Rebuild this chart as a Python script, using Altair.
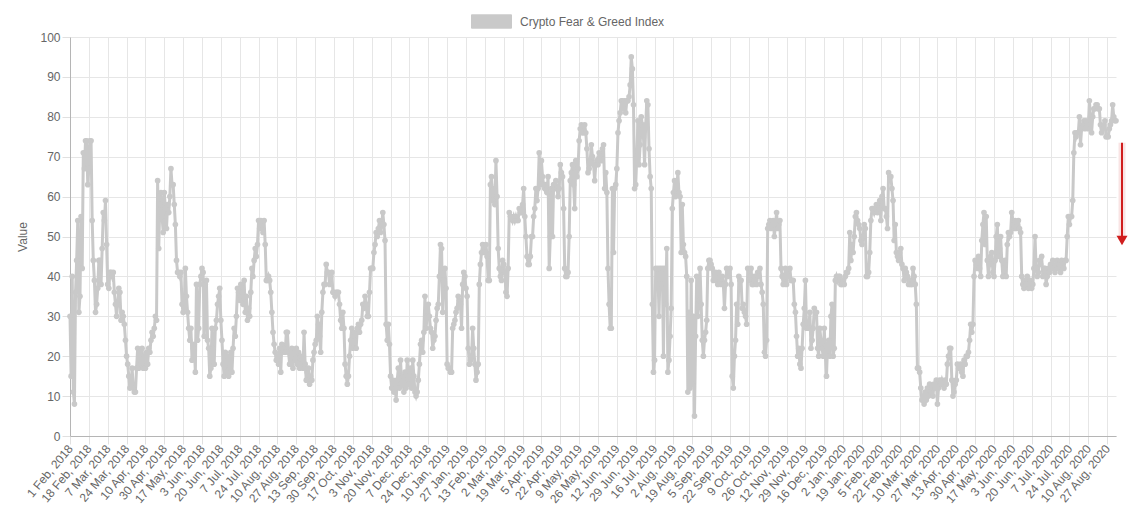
import altair as alt
import pandas as pd

# ---- daily index values (Feb 2018 -> Sep 2020) ----
vals_a = [
    30,15,40,11,8,36,44,54,31,35,55,42,71,67,74,74,63,
    67,74,74,54,44,39,31,33,37,44,44,38,47,56,54,59,48,
    38,37,41,41,40,41,36,33,30,33,37,36,29,31,30,28,24,
    20,18,15,12,13,17,12,11,11,17,22,17,21,18,22,17,20,
    17,21,18,22,21,24,26,25,27,30,29,64,47,58,61,55,51,
    61,57,52,58,56,60,67,63,63,58,53,44,41,41,40,41,33,
    31,32,42,35,31,27,24,27,19,22,23,16,38,24,27,38,40,
    42,41,25,38,39,24,22,15,17,27,22,18,27,29,33,35,37,
    29,24,18,15,21,16,20,15,17,21,16,22,27,25,30,37,36,
    34,38,36,33,39,31,35,29,32,30,36,42,40,44,47,45,48,
    54,52,54,53,51,54,48,39,39,40,39,36,31,26,23,21,19,
    20,18,22,16,23,21,22,21,26,26,21,18,20,22,17,21,19,
    22,18,21,17,20,18,17,26,18,14,16,17,13,15,14,19,21,
    23,24,30,28,25,21,31,36,38,38,43,41,41,38,40,41,36,
]
vals_b = [
    36,35,36,36,36,33,29,27,31,27,18,15,13,15,20,24,27,
    22,26,24,22,27,28,26,28,29,33,32,35,33,30,30,36,42,
    42,42,46,48,51,50,52,54,51,53,56,53,49,28,24,28,23,
    15,12,14,11,13,9,14,17,12,19,13,15,11,16,12,19,14,
    13,17,12,19,15,11,10,11,14,18,23,24,21,26,35,27,30,
    33,30,27,26,22,24,25,29,32,33,40,48,47,31,39,42,37,
    18,17,17,16,16,27,28,29,31,32,35,34,33,27,38,41,40,
    37,35,22,18,19,20,27,22,18,14,16,18,38,43,46,48,46,
    46,48,45,39,39,63,65,59,62,58,69,60,47,42,40,39,44,
    43,41,36,35,42,56,55,55,54,55,54,55,54,54,57,56,56,
    58,62,55,50,45,43,43,45,50,50,55,57,62,59,62,71,63,
    69,65,63,62,63,61,65,42,50,62,50,63,62,64,62,60,62,
    68,66,65,57,42,40,40,41,50,64,66,68,63,57,69,65,67,
    74,77,78,76,76,78,76,72,66,67,69,73,70,68,64,68,69,
]
vals_c = [
    68,71,70,69,72,73,62,66,61,42,33,27,27,62,46,62,63,
    67,76,79,81,84,84,82,84,81,84,84,85,88,95,92,83,62,
    63,70,79,68,73,80,78,75,68,78,84,83,72,65,62,33,16,
    19,42,38,42,30,42,38,42,20,42,33,47,16,19,25,32,57,
    61,64,60,62,66,61,60,46,58,48,46,45,40,11,31,12,39,
    13,30,5,25,40,30,34,42,33,24,20,24,26,29,42,44,44,
    43,42,39,40,41,39,38,41,39,38,40,38,32,38,42,40,41,
    42,38,15,12,20,24,33,28,40,39,39,32,33,31,30,28,42,
    39,40,42,38,38,40,39,38,41,40,42,38,36,33,21,20,24,
    52,53,54,52,53,54,50,53,56,52,53,54,42,40,38,40,42,
    38,41,40,42,39,39,39,33,31,25,20,22,18,17,22,28,32,
    39,27,27,27,31,22,24,27,32,31,31,22,20,27,24,22,20,
    27,20,15,23,24,20,30,33,20,22,39,40,39,40,40,38,38,
    39,38,40,41,41,42,51,44,48,46,50,55,56,54,53,52,49,
]
vals_d = [
    48,50,53,52,40,40,41,46,54,57,57,56,57,58,56,57,59,
    54,60,62,57,57,55,52,66,65,65,62,59,49,53,46,45,44,
    46,47,43,42,39,42,41,40,38,39,38,38,42,40,38,33,17,
    17,16,12,9,10,8,11,9,12,10,13,11,12,10,13,12,14,
    8,12,14,13,14,13,12,14,13,18,20,22,22,14,10,11,13,
    14,18,17,17,18,16,15,19,18,20,20,21,24,28,26,28,40,
    44,43,42,45,42,40,49,53,56,48,55,44,40,43,45,46,41,
    40,44,50,53,45,47,50,44,40,42,44,40,48,51,50,51,56,
    54,52,54,52,53,54,52,51,40,38,37,39,38,40,37,38,39,
    37,38,42,50,42,40,41,44,43,45,40,42,42,38,40,42,41,
    43,42,44,42,41,43,44,42,43,41,44,43,42,44,44,50,55,
    53,55,55,59,71,76,75,76,76,80,73,77,78,79,77,79,78,
    77,84,80,76,80,82,82,83,83,82,82,78,76,77,78,79,75,
    75,75,77,78,79,83,80,79,79,
]
values = vals_a + vals_b + vals_c + vals_d

# category labels (one per data day; three April 2018 days are absent)
missing_days = ["2018-04-14", "2018-04-15", "2018-04-16"]
all_days = pd.date_range("2018-02-01", "2020-09-04", freq="D")
days = [d for d in all_days if d.strftime("%Y-%m-%d") not in missing_days]
dates = [f"{d.day} {d.strftime('%b')}, {d.year}" for d in days]
n = min(len(dates), len(values))
dates, values = dates[:n], values[:n]

tick_labels = [
    "1 Feb, 2018", "18 Feb, 2018", "7 Mar, 2018", "24 Mar, 2018", "10 Apr, 2018",
    "30 Apr, 2018", "17 May, 2018", "3 Jun, 2018", "20 Jun, 2018", "7 Jul, 2018",
    "24 Jul, 2018", "10 Aug, 2018", "27 Aug, 2018", "13 Sep, 2018", "30 Sep, 2018",
    "17 Oct, 2018", "3 Nov, 2018", "20 Nov, 2018", "7 Dec, 2018", "24 Dec, 2018",
    "10 Jan, 2019", "27 Jan, 2019", "13 Feb, 2019", "2 Mar, 2019", "19 Mar, 2019",
    "5 Apr, 2019", "22 Apr, 2019", "9 May, 2019", "26 May, 2019", "12 Jun, 2019",
    "29 Jun, 2019", "16 Jul, 2019", "2 Aug, 2019", "19 Aug, 2019", "5 Sep, 2019",
    "22 Sep, 2019", "9 Oct, 2019", "26 Oct, 2019", "12 Nov, 2019", "29 Nov, 2019",
    "16 Dec, 2019", "2 Jan, 2020", "19 Jan, 2020", "5 Feb, 2020", "22 Feb, 2020",
    "10 Mar, 2020", "27 Mar, 2020", "13 Apr, 2020", "30 Apr, 2020", "17 May, 2020",
    "3 Jun, 2020", "20 Jun, 2020", "7 Jul, 2020", "24 Jul, 2020", "10 Aug, 2020",
    "27 Aug, 2020",
]
y_ticks = [0, 10, 20, 30, 40, 50, 60, 70, 80, 90, 100]
series_name = "Crypto Fear & Greed Index"

# annotation arrow (value-axis positions)
arrow_top = [73.5]
arrow_bottom = [50.0]
arrow_head = [49.0]

df = pd.DataFrame({"date": dates, "value": values, "series": [series_name] * n})
df_arrow = pd.DataFrame({"value": arrow_top, "value2": arrow_bottom})
df_head = pd.DataFrame({"value": arrow_head})

GRAY = "#c9c9c9"
RED = "#d01e1e"

x_enc = alt.X(
    "date:O", sort=None,
    scale=alt.Scale(type="point", padding=0, domain=dates),
    axis=alt.Axis(
        values=tick_labels, title=None, labelAngle=-50, labelAlign="right",
        labelBaseline="middle", labelPadding=2, tickSize=8, labelOverlap=False,
        labelFlush=False, labelBound=False, grid=True,
    ),
)
y_enc = alt.Y(
    "value:Q",
    scale=alt.Scale(domain=[0, 100], nice=False, zero=True),
    axis=alt.Axis(
        values=y_ticks, title="Value", tickSize=8, labelPadding=2, grid=True,
        titleX=-48, titleY=199.5, titleAngle=-90, titleAlign="center",
        titleBaseline="middle",
    ),
)

line = alt.Chart(df).mark_line(color=GRAY, strokeWidth=3).encode(x=x_enc, y=y_enc)
pts = alt.Chart(df).mark_point(filled=True, size=32, opacity=1).encode(
    x=x_enc, y=y_enc,
    color=alt.Color(
        "series:N", scale=alt.Scale(range=[GRAY]),
        legend=alt.Legend(
            title=None, orient="none", legendX=414, legendY=-23,
            symbolType="M-3,-1H3V1H-3Z", symbolSize=178,
            symbolStrokeColor=GRAY, symbolStrokeWidth=1, symbolOpacity=1,
            labelOffset=21, labelFont="Arial", labelFontSize=12,
            labelColor="#666666", labelLimit=400, padding=0,
        ),
    ),
)

glow = alt.Chart(df_arrow).mark_rule(color=RED, strokeWidth=7, opacity=0.12).encode(
    x=alt.value(1052), y=y_enc, y2="value2:Q"
)
shaft = alt.Chart(df_arrow).mark_rule(color=RED, strokeWidth=2).encode(
    x=alt.value(1052), y=y_enc, y2="value2:Q"
)
head = alt.Chart(df_head).mark_point(
    shape="triangle-down", filled=True, size=121, color=RED, opacity=1
).encode(x=alt.value(1052), y=y_enc)

chart = (
    alt.layer(line, pts, glow, shaft, head)
    .properties(
        width=1046, height=399,
        padding={"left": 62, "top": 29, "right": 20, "bottom": 88},
        autosize=alt.AutoSizeParams(type="none"),
    )
    .configure_view(stroke=None)
    .configure_axis(
        labelFont="Arial", labelFontSize=12, labelColor="#666666",
        titleFont="Arial", titleFontSize=12, titleColor="#666666",
        titleFontWeight="normal", gridColor="#e6e6e6", tickColor="#e0e0e0",
        domainColor="#b5b5b5",
    )
)

chart.save("out.html", embed_options={"renderer": "svg", "actions": False})
